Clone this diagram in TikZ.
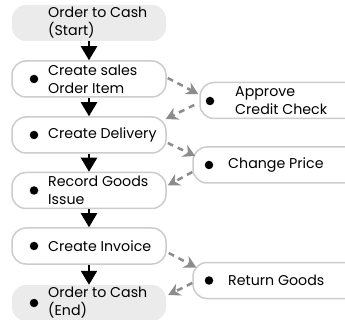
\documentclass[tikz,border=0pt]{standalone}
\usepackage{fontspec}
\setmainfont{Poppins}
\usetikzlibrary{arrows.meta,calc}
\definecolor{boxgray}{HTML}{CCCCCC}
\definecolor{termgray}{HTML}{EBEBEB}
\definecolor{arrgray}{HTML}{8C8C8C}
\begin{document}
\begin{tikzpicture}[x=1pt,y=-1pt,
  box/.style={draw=boxgray, line width=1.5pt, rounded corners=14pt, fill=white, minimum width=154pt, minimum height=36pt, inner sep=0pt},
  rbox/.style={box, minimum width=170pt},
  term/.style={fill=termgray, draw=none, rounded corners=14pt, minimum width=154pt, minimum height=36pt, inner sep=0pt},
  lbl/.style={anchor=west, align=left, font=\fontsize{14.2}{18}\selectfont, inner sep=0pt},
  dot/.style={circle, fill=black, minimum size=8.5pt, inner sep=0pt},
  flow/.style={line width=2.2pt, -{Triangle[length=14pt,width=16pt]}},
  side/.style={draw=arrgray, line width=2.5pt, dash pattern=on 6pt off 5pt, -{Stealth[length=12pt,width=13pt,inset=4pt]}}]
\useasboundingbox (0,0) rectangle (345,320);
\begin{scope}
\clip (0,0) rectangle (345,320);
% left column
\node[term] (start) at (89,23) {};
\node[lbl] (tstart) at (48,23) {Order to Cash\\(Start)};
\node[box] (sales) at (89,79) {};
\node[dot] (dsales) at (34,79) {};
\node[lbl] (tsales) at (48,79) {Create sales\\Order Item};
\node[box] (deliv) at (89,135) {};
\node[dot] (ddeliv) at (34,135) {};
\node[lbl] (tdeliv) at (48,135) {Create Delivery};
\node[box] (record) at (89,190.5) {};
\node[dot] (drecord) at (34,190.5) {};
\node[lbl] (trecord) at (48,190.5) {Record Goods\\Issue};
\node[box] (invoice) at (89,246) {};
\node[dot] (dinvoice) at (34,246) {};
\node[lbl] (tinvoice) at (48,246) {Create Invoice};
\node[term] (end) at (89,303) {};
\node[dot] (dend) at (34,303) {};
\node[lbl] (tend) at (48,303) {Order to Cash\\(End)};
% right column
\node[rbox] (approve) at (285,100.5) {};
\node[dot] (dapprove) at (210,101) {};
\node[lbl] (tapprove) at (235,100.5) {Approve\\Credit Check};
\node[rbox] (change) at (278,165) {};
\node[dot] (dchange) at (209,165) {};
\node[lbl] (tchange) at (228,165) {Change Price};
\node[rbox] (return) at (278,280.5) {};
\node[dot] (dreturn) at (209,280.5) {};
\node[lbl] (treturn) at (228,280.5) {Return Goods};
% main flow
\draw[flow] (start.south) -- (sales.north);
\draw[flow] (sales.south) -- (deliv.north);
\draw[flow] (deliv.south) -- (record.north);
\draw[flow] (record.south) -- (invoice.north);
\draw[flow] (invoice.south) -- (end.north);
% side flows
\draw[side] ($(sales.east)+(1,-1)$) -- ($(approve.west)+(-1,-6.5)$);
\draw[side] ($(approve.west)+(-5,4.5)$) -- ($(deliv.east)+(-1,-16)$);
\draw[side] ($(deliv.east)+(1,8)$) -- ($(change.west)+(3,-9)$);
\draw[side] ($(change.west)+(0,7)$) -- ($(record.east)+(1,-5)$);
\draw[side] ($(invoice.east)+(2,7)$) -- ($(return.west)+(4,-13)$);
\draw[side] ($(return.west)+(0,2.5)$) -- ($(end.east)+(2,-8)$);
\end{scope}
\end{tikzpicture}
\end{document}
